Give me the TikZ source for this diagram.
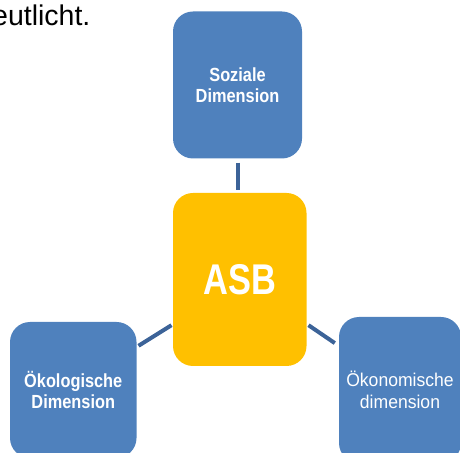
\documentclass[tikz,border=0pt]{standalone}
\usepackage{fontspec}
\usetikzlibrary{calc}
\setmainfont{Liberation Sans}
\newfontfamily\boxbold[FakeStretch=0.86]{Liberation Sans}
\newfontfamily\asbfont[FakeStretch=0.8]{Liberation Sans}
\newfontfamily\boxreg[FakeStretch=0.95]{Liberation Sans}
\definecolor{boxblue}{HTML}{4F81BD}
\definecolor{asbyellow}{HTML}{FFC000}
\definecolor{linkblue}{HTML}{3C6398}
\tikzset{
  dimbox/.style={fill=boxblue, rounded corners=20pt, inner sep=0pt, align=center,
    text=white},
  asbbox/.style={fill=asbyellow, rounded corners=20pt, inner sep=0pt, text=white},
  link/.style={draw=linkblue, line width=4pt}
}
\begin{document}
\begin{tikzpicture}[x=1pt,y=1pt]
\useasboundingbox (0,0) rectangle (460,452);
\clip (0,0) rectangle (460,452);
\node[anchor=base east, inner sep=0pt, font=\fontsize{28.5}{30}\selectfont] (txt) at (90.6,426.5) {eutlicht.};
\node[dimbox, minimum width=129pt, minimum height=147pt,
  font=\boxbold\bfseries\fontsize{19}{21.5}\selectfont] (top) at (237.5,367) {Soziale\\Dimension};
\node[asbbox, minimum width=133.5pt, minimum height=173pt,
  font=\asbfont\bfseries\fontsize{43}{43}\selectfont] (asb) at (239.75,172.5) {ASB};
\node[dimbox, minimum width=126.5pt, minimum height=136pt,
  font=\boxbold\bfseries\fontsize{19}{21.5}\selectfont] (left) at (73.25,62) {Ökologische\\Dimension};
\node[dimbox, minimum width=122pt, minimum height=146pt,
  font=\boxreg\fontsize{18.5}{21.5}\selectfont] (right) at (400,62) {Ökonomische\\dimension};
\draw[link, shorten <=4pt, shorten >=3pt] ([xshift=0.5pt]top.south) -- ([xshift=0.5pt]top.south |- asb.north);
\coordinate (l1) at ($(left.north east)+(1.8,-24)$);
\coordinate (l2) at ($(asb.south west)+(-1.3,41)$);
\draw[link] (l1) -- (l2);
\coordinate (r1) at ($(asb.south east)+(1.8,41)$);
\coordinate (r2) at ($(right.north west)+(-4,-26.3)$);
\draw[link] (r1) -- (r2);
\end{tikzpicture}
\end{document}
